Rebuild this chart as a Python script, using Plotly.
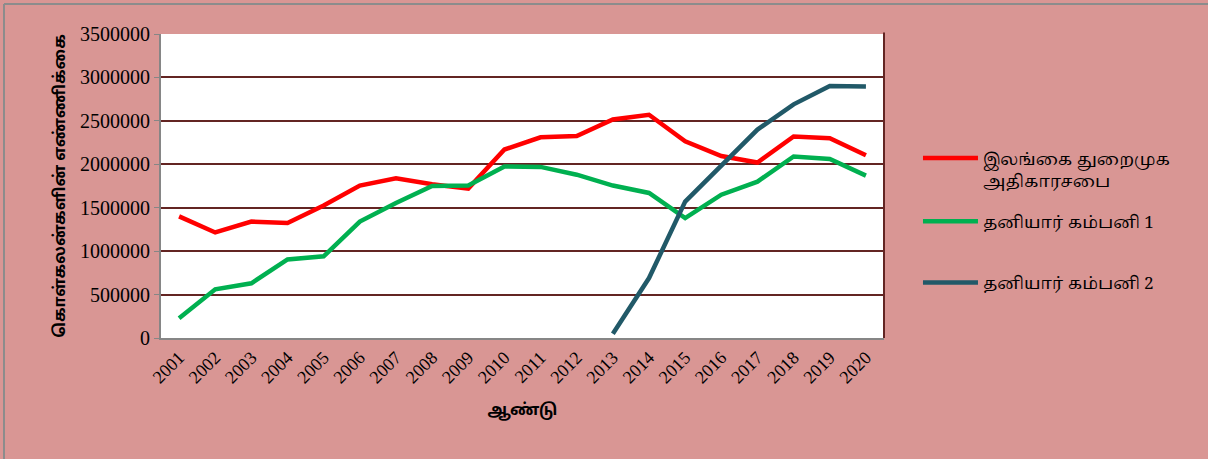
import plotly.graph_objects as go

years = [str(y) for y in range(2001, 2021)]
slpa = [1400000, 1215000, 1340000, 1325000, 1525000, 1755000, 1840000, 1770000, 1720000, 2170000,
        2310000, 2325000, 2515000, 2570000, 2265000, 2095000, 2020000, 2320000, 2300000, 2105000]
private1 = [227000, 560000, 630000, 905000, 940000, 1340000, 1555000, 1750000, 1755000, 1975000,
            1970000, 1880000, 1755000, 1670000, 1380000, 1650000, 1800000, 2090000, 2060000, 1870000]
private2_years = [str(y) for y in range(2013, 2021)]
private2 = [50000, 690000, 1570000, 1985000, 2400000, 2690000, 2900000, 2895000]

names = ["இலங்கை துறைமுக<br>அதிகாரசபை", "தனியார் கம்பனி 1", "தனியார் கம்பனி 2"]
colors = ["#FF0000", "#00B050", "#215968"]

fig = go.Figure()
fig.add_trace(go.Scatter(x=years, y=slpa, mode="lines", name=names[0], legendgroup="a",
                         line=dict(color=colors[0], width=4.5)))
fig.add_trace(go.Scatter(x=years, y=private1, mode="lines", name=names[1], legendgroup="b",
                         line=dict(color=colors[1], width=4.5)))
fig.add_trace(go.Scatter(x=private2_years, y=private2, mode="lines", name=names[2], legendgroup="c",
                         legend="legend2", line=dict(color=colors[2], width=4.5)))

serif = "'Times New Roman', 'Liberation Serif', serif"
tamil = "'Noto Serif Tamil', 'Noto Sans Tamil', 'Times New Roman', serif"
tamil_bold = "'Noto Sans Tamil', 'Noto Serif Tamil', sans-serif"
legend_common = dict(xanchor="left", yanchor="top", font=dict(size=17, family=tamil),
                     bgcolor="rgba(0,0,0,0)", itemwidth=55, valign="top")
fig.update_layout(
    width=1208, height=459,
    margin=dict(l=161, r=324, t=34, b=121, autoexpand=False),
    paper_bgcolor="#D99694",
    plot_bgcolor="#FFFFFF",
    font=dict(family=serif, color="#000000", size=16),
    legend=dict(x=1.047, y=0.65, tracegroupgap=16, **legend_common),
    legend2=dict(x=1.047, y=0.24, **legend_common),
    xaxis=dict(type="category", categoryorder="array", categoryarray=years,
               tickangle=-45, tickfont=dict(size=18, family=serif),
               showgrid=False, showline=True, linecolor="#868686", linewidth=2,
               ticks="", range=[-0.5, 19.5],
               title=dict(text="<b>ஆண்டு</b>", font=dict(size=16, family=tamil_bold), standoff=18)),
    yaxis=dict(range=[0, 3500000], dtick=500000, tickformat="d",
               tickfont=dict(size=20, family=serif),
               showgrid=True, gridcolor="#632523", gridwidth=1.5,
               showline=True, linecolor="#868686", linewidth=2,
               ticks="outside", ticklen=5, tickcolor="#868686",
               zeroline=False,
               title=dict(text="<b>கொள்கலன்களின் எண்ணிக்கை</b>",
                          font=dict(size=16, family=tamil_bold), standoff=10)),
)
# right border of plot area
fig.add_shape(type="line", xref="paper", yref="paper", x0=1, x1=1, y0=0, y1=1.005,
              line=dict(color="#632523", width=2))
# outer frame (top and left)
fig.add_shape(type="line", xref="paper", yref="paper",
              x0=-157/723, x1=1 + 324/723, y0=1 + 30/304, y1=1 + 30/304,
              line=dict(color="#8C8C8C", width=2))
fig.add_shape(type="line", xref="paper", yref="paper",
              x0=-157/723, x1=-157/723, y0=-121/304, y1=1 + 30/304,
              line=dict(color="#8C8C8C", width=2))

fig.write_html("out.html", config={"displayModeBar": False},
               post_script="document.body.style.margin='0';document.body.style.background='#D99694';")
